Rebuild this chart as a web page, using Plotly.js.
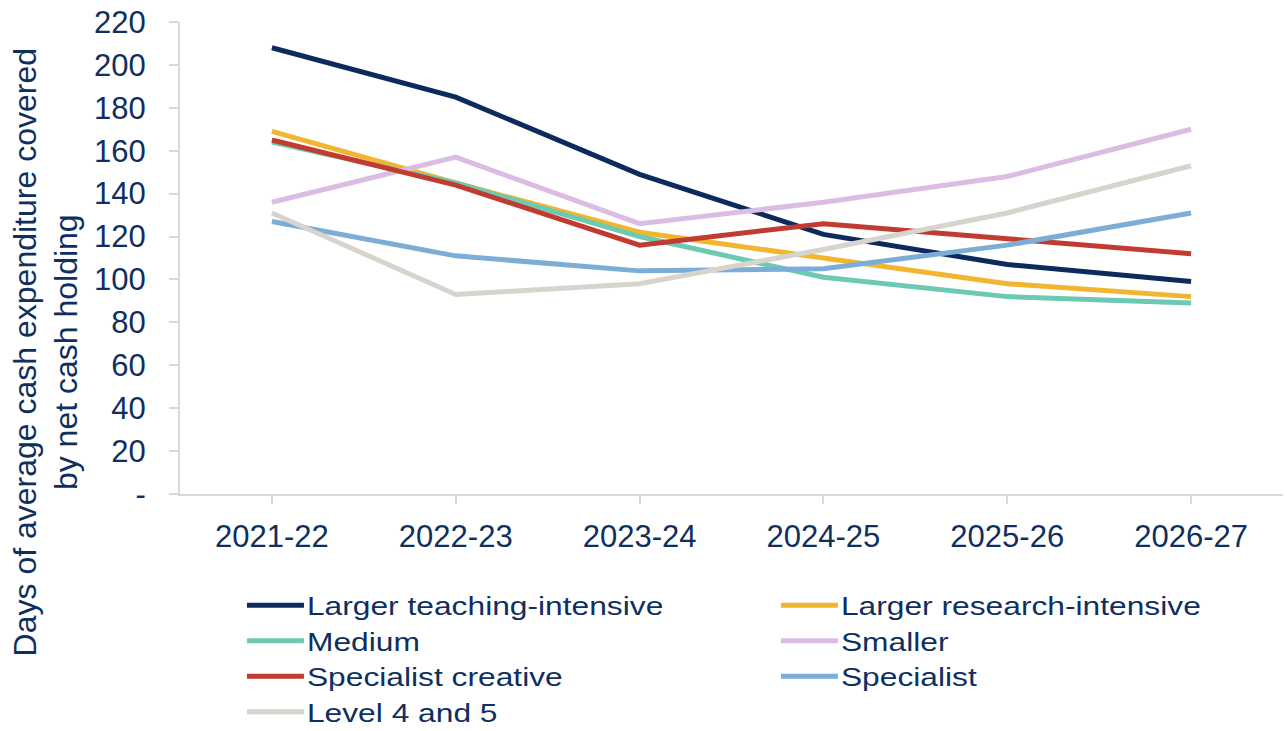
<!DOCTYPE html>
<html>
<head>
<meta charset="utf-8">
<script src="https://cdn.plot.ly/plotly-3.0.1.min.js"></script>
<style>
html,body{margin:0;padding:0;background:#fff;}
#chart{width:1287px;height:731px;}
#chart .legend .legendtext{transform-box:fill-box;transform-origin:left center;transform:scaleX(1.27);}
</style>
</head>
<body>
<div id="chart"></div>
<script>
const years = ["2021-22", "2022-23", "2023-24", "2024-25", "2025-26", "2026-27"];
const largerTeaching = [208, 185, 149, 121, 107, 99];
const largerResearch = [169, 145, 122, 110, 98, 92];
const medium = [164, 145, 120, 101, 92, 89];
const smaller = [136, 157, 126, 136, 148, 170];
const specialistCreative = [165, 144, 116, 126, 119, 112];
const specialist = [127, 111, 104, 105, 116, 131];
const level4and5 = [131, 93, 98, 114, 131, 153];
const yTickVals = [0, 20, 40, 60, 80, 100, 120, 140, 160, 180, 200, 220];
const yTickText = ["-", "20", "40", "60", "80", "100", "120", "140", "160", "180", "200", "220"];

const seriesNames = ["Larger teaching-intensive", "Larger research-intensive", "Medium", "Smaller", "Specialist creative", "Specialist", "Level 4 and 5"];
const seriesData = [largerTeaching, largerResearch, medium, smaller, specialistCreative, specialist, level4and5];
const seriesColors = ["#0c2a5b", "#f2b530", "#6ccab3", "#dbbde3", "#c23b30", "#7badd7", "#d7d3cd"];

const navy = "#0f2f5f";
const font = "Liberation Sans, Arial, sans-serif";

const traces = seriesNames.map((n, i) => ({
  type: "scatter", mode: "lines", name: n, x: years, y: seriesData[i],
  line: {color: seriesColors[i], width: 5}
}));

const layout = {
  width: 1287, height: 731,
  margin: {l: 180, r: 4, t: 22, b: 237},
  paper_bgcolor: "#fff", plot_bgcolor: "#fff",
  showlegend: true,
  font: {family: font, color: navy, size: 30},
  xaxis: {
    type: "category", range: [-0.5, 5.5], showgrid: false, zeroline: false,
    showline: true, linecolor: "#d9d9d9", linewidth: 2,
    ticks: "outside", ticklen: 8, tickcolor: "#d9d9d9", tickwidth: 2,
    tickfont: {family: font, size: 31, color: navy},
    ticklabelstandoff: 6, automargin: false
  },
  yaxis: {
    range: [0, 220], tickvals: yTickVals, ticktext: yTickText,
    showgrid: false, zeroline: false,
    showline: true, linecolor: "#d9d9d9", linewidth: 2,
    ticks: "outside", ticklen: 9, tickcolor: "#d9d9d9", tickwidth: 2,
    tickfont: {family: font, size: 31, color: navy},
    ticklabelstandoff: 17, automargin: false
  },
  legend: {
    orientation: "h", xref: "container", yref: "container",
    x: 0.188, xanchor: "left", y: 0.203, yanchor: "top",
    entrywidth: 464, entrywidthmode: "pixels", itemwidth: 55,
    font: {family: font, size: 25, color: navy},
    bgcolor: "rgba(0,0,0,0)", traceorder: "normal"
  },
  annotations: [{
    text: "Days of average cash expenditure covered<br>by net cash holding",
    xref: "paper", yref: "paper", x: -0.1215, y: 0.3,
    xanchor: "center", yanchor: "middle", textangle: -90, showarrow: false,
    font: {family: font, size: 32, color: navy}
  }]
};

Plotly.newPlot("chart", traces, layout, {displayModeBar: false, staticPlot: true}).then(gd => {
  // lengthen the legend line samples to match the reference swatches
  gd.querySelectorAll(".legend .legendlines path").forEach(p => p.setAttribute("d", "M5,0h57"));
});
</script>
</body>
</html>
